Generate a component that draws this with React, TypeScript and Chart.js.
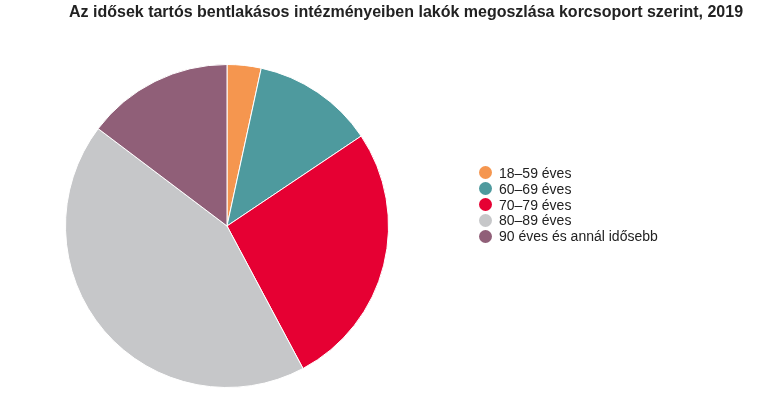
import React, { useEffect, useRef } from "react";
import { Chart, registerables } from "chart.js";

Chart.register(...registerables);

const TITLE = "Az idősek tartós bentlakásos intézményeiben lakók megoszlása korcsoport szerint, 2019";
const categories = ["18–59 éves", "60–69 éves", "70–79 éves", "80–89 éves", "90 éves és annál idősebb"];
const shares = [3.4, 12.2, 26.6, 43.1, 14.7];
const colors = ["#F5964F", "#4E9A9E", "#E60033", "#C6C7C9", "#905F78"];

export default function App() {
  const ref = useRef<HTMLCanvasElement | null>(null);

  useEffect(() => {
    if (!ref.current) return;
    const chart = new Chart(ref.current, {
      type: "pie",
      data: {
        labels: categories,
        datasets: [
          {
            data: shares,
            backgroundColor: colors,
            borderColor: "#ffffff",
            borderWidth: 1,
            hoverOffset: 0,
          },
        ],
      },
      options: {
        responsive: false,
        animation: false,
        layout: { padding: { left: 65, right: 377, top: 64, bottom: 6 } },
        plugins: {
          legend: { display: false },
          title: { display: false },
          tooltip: { enabled: false },
        },
      },
    });
    return () => chart.destroy();
  }, []);

  return (
    <div
      style={{
        position: "absolute",
        left: 0,
        top: 0,
        width: 766,
        height: 394,
        background: "#fff",
        fontFamily: "Arial, 'Liberation Sans', sans-serif",
        color: "#222",
      }}
    >
      <canvas ref={ref} width={766} height={394} style={{ position: "absolute", left: 0, top: 0 }} />
      <div
        style={{
          position: "absolute",
          left: 69,
          top: 3,
          fontSize: 16,
          fontWeight: "bold",
          whiteSpace: "nowrap",
          lineHeight: "18px",
        }}
      >
        {TITLE}
      </div>
      <div style={{ position: "absolute", left: 479, top: 165 }}>
        {categories.map((c, i) => (
          <div key={c} style={{ display: "flex", alignItems: "center", height: 15.8, fontSize: 14, whiteSpace: "nowrap" }}>
            <span
              style={{
                display: "inline-block",
                width: 13,
                height: 13,
                borderRadius: "50%",
                background: colors[i],
                marginRight: 7,
              }}
            />
            <span>{c}</span>
          </div>
        ))}
      </div>
    </div>
  );
}
